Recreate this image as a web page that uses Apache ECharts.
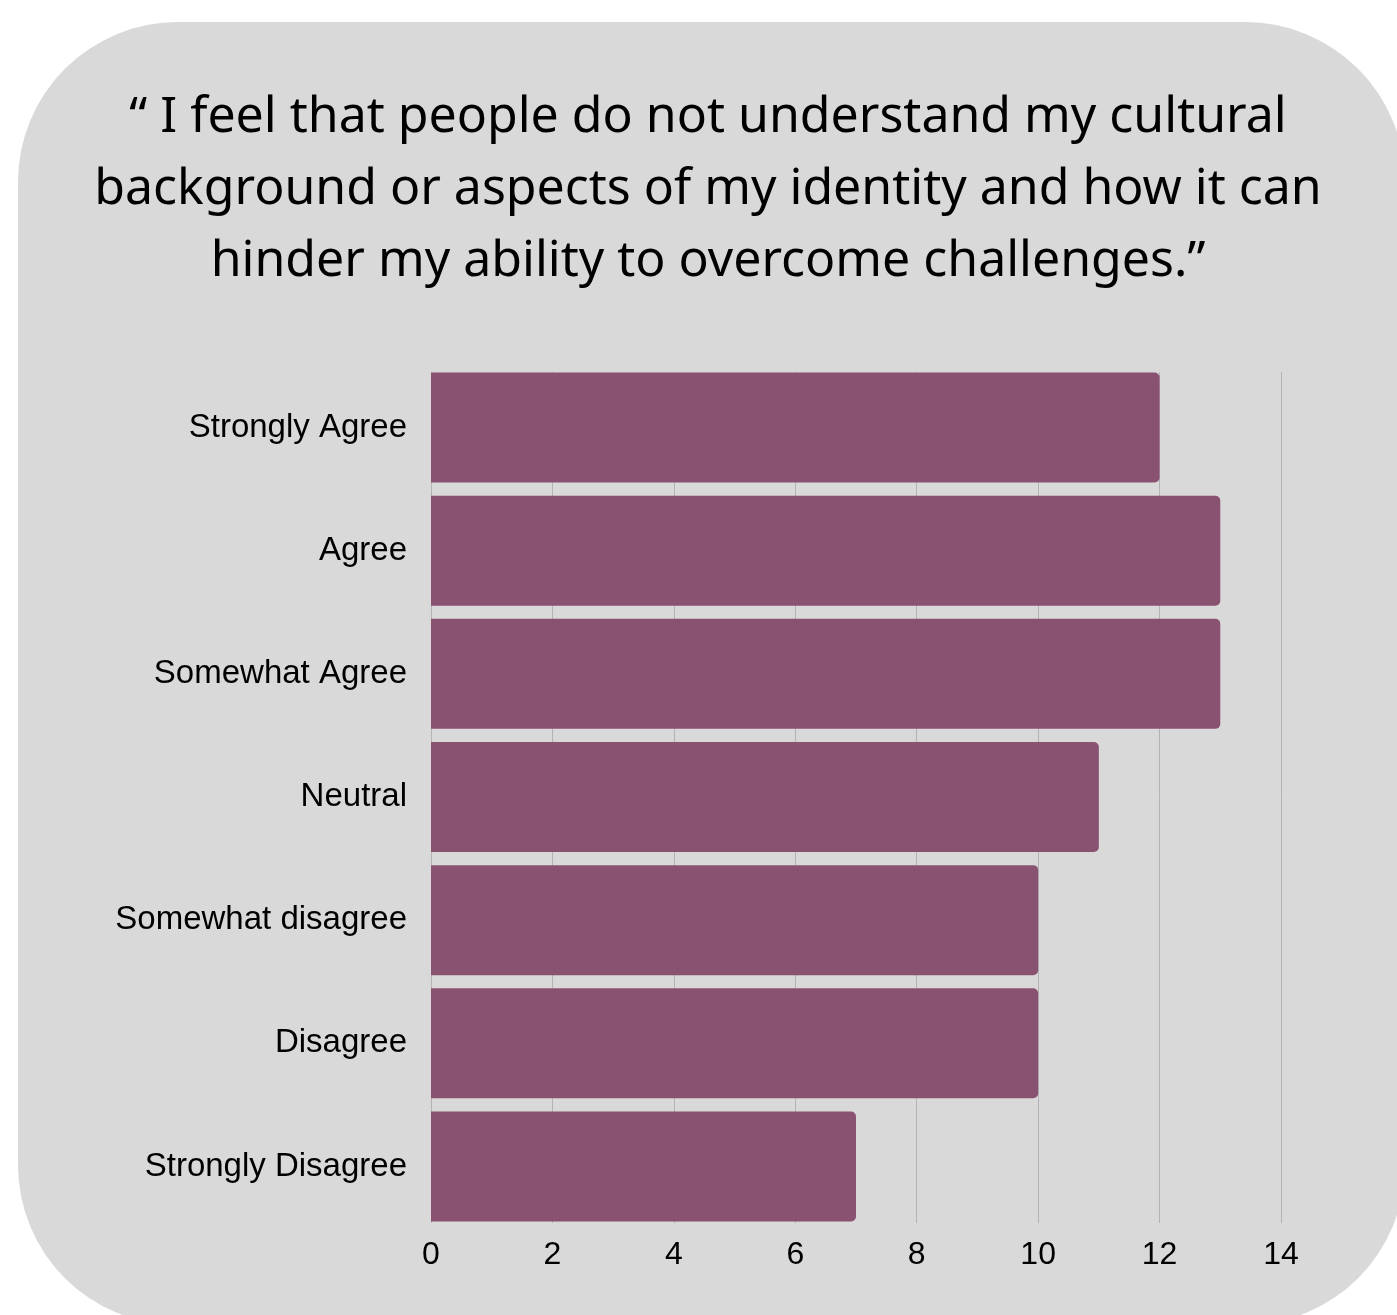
<!DOCTYPE html>
<html>
<head>
<meta charset="utf-8">
<script src="https://cdn.jsdelivr.net/npm/echarts@6/dist/echarts.min.js"></script>
<style>
  html, body { margin: 0; padding: 0; background: #ffffff; }
  #chart { width: 1397px; height: 1315px; }
</style>
</head>
<body>
<div id="chart"></div>
<script>
const titleLines = [
  "\u201C I feel that people do not understand my cultural",
  "background or aspects of my identity and how it can",
  "hinder my ability to overcome challenges.\u201D"
];
const categories = ["Strongly Agree", "Agree", "Somewhat Agree", "Neutral", "Somewhat disagree", "Disagree", "Strongly Disagree"];
const values = [12, 13, 13, 11, 10, 10, 7];
const xMin = 0, xMax = 14, xStep = 2;

const chart = echarts.init(document.getElementById('chart'), null, { renderer: 'canvas' });
const labelFont = '"Liberation Sans", Arial, Helvetica, sans-serif';

chart.setOption({
  backgroundColor: '#ffffff',
  animation: false,
  graphic: [{
    type: 'rect',
    z: -10,
    shape: { x: 18, y: 22, width: 1387, height: 1303, r: 160 },
    style: { fill: '#d9d9d9' }
  }],
  title: {
    text: titleLines.join('\n'),
    left: 703,
    textAlign: 'center',
    top: 77,
    textStyle: {
      fontFamily: '"Noto Sans", "Open Sans", sans-serif',
      fontWeight: 'normal',
      fontSize: 50,
      lineHeight: 72,
      color: '#000000'
    }
  },
  grid: [
    { left: 431, right: 116, top: 366, height: 862, containLabel: false },
    { left: 431, right: 116, top: 372, height: 851, containLabel: false }
  ],
  xAxis: [
    {
      gridIndex: 0, type: 'value', min: xMin, max: xMax, interval: xStep,
      axisLine: { show: false }, axisTick: { show: false },
      axisLabel: { show: false }, splitLine: { show: false }
    },
    {
      gridIndex: 1, type: 'value', min: xMin, max: xMax, interval: xStep,
      axisLine: { show: false }, axisTick: { show: false },
      axisLabel: { show: true, fontFamily: labelFont, fontSize: 32, color: '#000000', margin: 16 },
      splitLine: { show: true, lineStyle: { color: '#b3b3b3', width: 1 } }
    }
  ],
  yAxis: [
    {
      gridIndex: 0, type: 'category', data: categories, inverse: true,
      axisLine: { show: false }, axisTick: { show: false },
      axisLabel: { fontFamily: labelFont, fontSize: 33, color: '#000000', margin: 24 },
      splitLine: { show: false }
    },
    {
      gridIndex: 1, type: 'category', data: categories, inverse: true, show: false
    }
  ],
  series: [{
    type: 'bar',
    xAxisIndex: 0, yAxisIndex: 0,
    data: values,
    barWidth: 110,
    z: 5,
    itemStyle: { color: '#8a5271', borderRadius: [0, 5, 5, 0] }
  }]
});
</script>
</body>
</html>
